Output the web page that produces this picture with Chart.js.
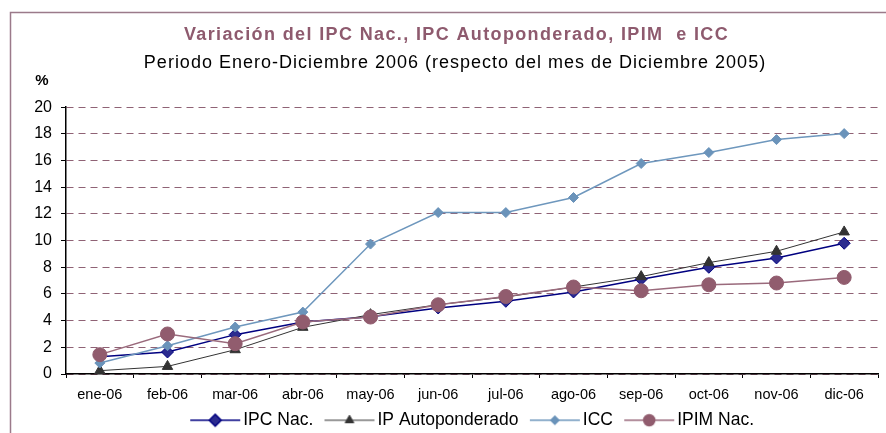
<!DOCTYPE html>
<html>
<head>
  <meta charset="utf-8">
  <title>Variación IPC / ICC 2006</title>
  <script src="https://cdn.jsdelivr.net/npm/chart.js"></script>
  <style>
    html, body { margin: 0; padding: 0; background: #fff; }
    #wrap { width: 886px; height: 433px; position: relative; }
  </style>
</head>
<body>
  <div id="wrap"><canvas id="myChart"></canvas></div>

  <script>
    // Data
    const months = ['ene-06', 'feb-06', 'mar-06', 'abr-06', 'may-06', 'jun-06', 'jul-06', 'ago-06', 'sep-06', 'oct-06', 'nov-06', 'dic-06'];
    const ipcNac = [1.30, 1.65, 2.95, 3.90, 4.30, 4.95, 5.45, 6.15, 7.10, 8.00, 8.70, 9.80];
    const ipAuto = [0.25, 0.57, 1.82, 3.50, 4.45, 5.20, 5.77, 6.52, 7.30, 8.35, 9.20, 10.65];
    const icc = [0.82, 2.12, 3.52, 4.64, 9.74, 12.10, 12.10, 13.23, 15.78, 16.60, 17.57, 18.02];
    const ipimNac = [1.45, 3.00, 2.27, 3.90, 4.27, 5.19, 5.81, 6.52, 6.24, 6.69, 6.82, 7.24];
    const yMin = 0, yMax = 20, yStep = 2;

    const mauve = '#8e5a6e';

    // legend symbol: a short line with the marker in the middle (like Excel)
    function legendIcon(lineColor, lineWidth, style, radius, fill, border) {
      const c = document.createElement('canvas');
      c.width = 52; c.height = 16;
      const ctx = c.getContext('2d');
      ctx.strokeStyle = lineColor;
      ctx.lineWidth = lineWidth;
      ctx.beginPath();
      ctx.moveTo(1, 8); ctx.lineTo(51, 8);
      ctx.stroke();
      ctx.fillStyle = fill;
      ctx.strokeStyle = border;
      Chart.helpers.drawPoint(ctx, { pointStyle: style, radius: radius, rotation: 0, borderWidth: 1 }, 26, 8);
      return c;
    }

    const series = [
      { label: 'IPC Nac.', data: ipcNac, line: '#000080', width: 1.5, style: 'rectRot', r: 6, lr: 6, fill: '#2b2b8f', border: '#000080', order: 4 },
      { label: 'IP Autoponderado', data: ipAuto, line: '#333333', width: 1, style: 'triangle', r: 6, lr: 5, fill: '#333333', border: '#333333', order: 3 },
      { label: 'ICC', data: icc, line: '#6e97bd', width: 1.5, style: 'rectRot', r: 5, lr: 4, fill: '#6a93ba', border: '#6a93ba', order: 2 },
      { label: 'IPIM Nac.', data: ipimNac, line: '#9a6a7c', width: 1.5, style: 'circle', r: 7, lr: 5.5, fill: '#915c6e', border: '#915c6e', order: 1 }
    ];

    // text spacing and horizontal offsets of the title block and legend
    const titleSpacing = { 'Variación del IPC Nac., IPC Autoponderado, IPIM  e ICC': ['1.37px', 16],
      'Periodo Enero-Diciembre 2006 (respecto del mes de Diciembre 2005)': ['1px', 14.5] };

    const extras = {
      id: 'extras',
      afterLayout(chart) {
        chart.boxes.forEach(b => {
          const t = b.options && b.options.text;
          if (typeof t === 'string' && titleSpacing[t]) {
            const [sp, dx] = titleSpacing[t];
            b.left += dx; b.right += dx;
            if (!b._spaced) {
              const orig = b.draw;
              b.draw = function (area) {
                const c = this.ctx;
                c.letterSpacing = sp;
                orig.call(this, area);
                c.letterSpacing = '0px';
              };
              b._spaced = true;
            }
          }
        });
        if (chart.legend) {
          chart.legend.left += 34.5; chart.legend.right += 34.5;
          chart.legend.top += 6; chart.legend.bottom += 6;
        }
        // month labels hang below the (short) x axis box; widen its clip area
        chart.scales.x.bottom += 20;
      },
      beforeDraw(chart) {
        const ctx = chart.ctx;
        ctx.save();
        ctx.strokeStyle = '#9b7a8a';
        ctx.lineWidth = 1.5;
        ctx.strokeRect(10.5, 12.5, 900, 440);
        ctx.restore();
      },
      afterDraw(chart) {
        const ctx = chart.ctx;
        ctx.save();
        ctx.fillStyle = '#000';
        ctx.font = 'bold 15px Arial';
        ctx.textAlign = 'center';
        ctx.textBaseline = 'middle';
        ctx.fillText('%', 42, 81);
        ctx.restore();
      }
    };

    const ctx = document.getElementById('myChart').getContext('2d');
    const chart = new Chart(ctx, {
      type: 'line',
      data: {
        labels: months,
        datasets: series.map(s => ({
          label: s.label,
          data: s.data,
          borderColor: s.line,
          borderWidth: s.width,
          backgroundColor: s.fill,
          pointStyle: s.style,
          pointRadius: s.r,
          pointBackgroundColor: s.fill,
          pointBorderColor: s.border,
          pointBorderWidth: 1,
          tension: 0,
          fill: false,
          order: s.order,
          icon: legendIcon(s.line, s.width, s.style, s.lr, s.fill, s.border)
        }))
      },
      options: {
        responsive: true,
        maintainAspectRatio: false,
        animation: false,
        layout: { padding: { left: 0, right: 5, top: 0, bottom: 0 } },
        scales: {
          x: {
            offset: true,
            afterFit(s) { s.height = 14.5; },
            grid: { offset: true, drawOnChartArea: false, drawTicks: true, tickLength: 4, tickColor: '#000' },
            border: { color: '#000', width: 1.5 },
            ticks: { color: '#000', font: { family: 'Arial', size: 14.5 }, padding: 8.3, maxRotation: 0, autoSkip: false }
          },
          y: {
            min: yMin,
            max: yMax,
            afterFit(s) { s.width = 66; },
            grid: { color: '#8f6275', lineWidth: 1, tickColor: '#000', tickLength: 5, tickBorderDash: [] },
            border: { color: '#000', width: 1.5, dash: [7, 5] },
            ticks: { stepSize: yStep, color: '#000', font: { family: 'Arial', size: 16 }, padding: 9 }
          }
        },
        plugins: {
          title: {
            display: true,
            text: 'Variación del IPC Nac., IPC Autoponderado, IPIM  e ICC',
            color: mauve,
            font: { family: 'Arial', size: 18, weight: 'bold' },
            padding: { top: 24, bottom: 6 }
          },
          subtitle: {
            display: true,
            text: 'Periodo Enero-Diciembre 2006 (respecto del mes de Diciembre 2005)',
            color: '#000',
            font: { family: 'Arial', size: 18 },
            padding: { top: 1, bottom: 33 }
          },
          legend: {
            position: 'bottom',
            labels: {
              color: '#000',
              font: { family: 'Arial', size: 17.5 },
              usePointStyle: true,
              pointStyleWidth: 38.5,
              padding: 17,
              generateLabels(chart) {
                return chart.data.datasets.map((d, i) => ({
                  text: d.label,
                  pointStyle: d.icon,
                  fillStyle: d.backgroundColor,
                  strokeStyle: d.borderColor,
                  lineWidth: 0,
                  fontColor: '#000',
                  hidden: false,
                  datasetIndex: i
                }));
              }
            }
          },
          tooltip: { enabled: false }
        }
      },
      plugins: [extras]
    });
  </script>
</body>
</html>
